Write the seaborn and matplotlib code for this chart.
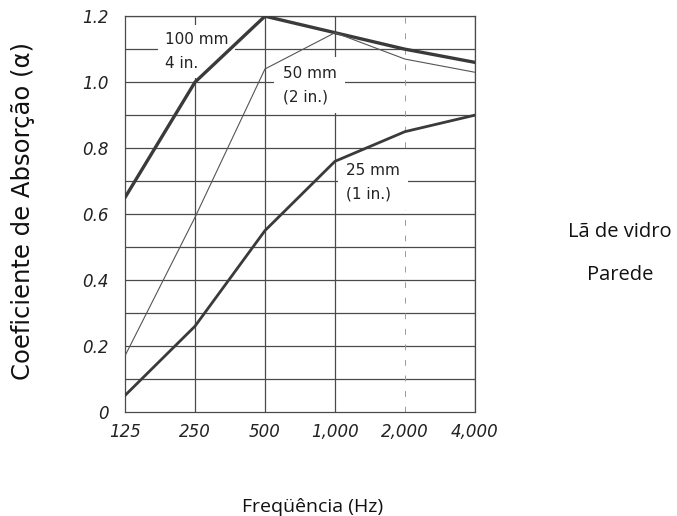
import matplotlib
matplotlib.use("Agg")
import matplotlib.pyplot as plt
import seaborn as sns
import pandas as pd
import numpy as np

freqs = [125, 250, 500, 1000, 2000, 4000]
freq_labels = ["125", "250", "500", "1,000", "2,000", "4,000"]
mm100 = [0.65, 1.00, 1.20, 1.15, 1.10, 1.06]
mm50 = [0.17, 0.59, 1.04, 1.15, 1.07, 1.03]
mm25 = [0.05, 0.26, 0.55, 0.76, 0.85, 0.90]
y_ticks = [0, 0.2, 0.4, 0.6, 0.8, 1.0, 1.2]
y_labels = ["0", "0.2", "0.4", "0.6", "0.8", "1.0", "1.2"]

sns.set_style("white")
plt.rcParams['font.family'] = ['DejaVu Sans']

fig = plt.figure(figsize=(6.77, 5.16), dpi=100)
ax = fig.add_axes([0.1846, 0.2016, 0.517, 0.767])
ax.set_xscale("log", base=2)

# grid
for v in np.arange(0.1, 1.21, 0.1):
    ax.axhline(v, color="#4a4a4a", lw=0.9, zorder=1)
for f in freqs[1:]:
    if f == 2000:
        ax.axvline(f, color="#9a9a9a", lw=0.7, ls=(0, (6, 10)), zorder=1)
    else:
        ax.axvline(f, color="#4a4a4a", lw=0.9, zorder=1)

df100 = pd.DataFrame({"f": freqs, "a": mm100})
df50 = pd.DataFrame({"f": freqs, "a": mm50})
df25 = pd.DataFrame({"f": freqs, "a": mm25})
sns.lineplot(data=df100, x="f", y="a", ax=ax, color="#3a3a3a", lw=2.4, zorder=3)
sns.lineplot(data=df50, x="f", y="a", ax=ax, color="#555555", lw=0.8, zorder=3)
sns.lineplot(data=df25, x="f", y="a", ax=ax, color="#3a3a3a", lw=2.0, zorder=3)

ax.set_xlim(125, 4000)
ax.set_ylim(0, 1.2)
ax.set_xticks(freqs)
ax.set_xticklabels(freq_labels, fontsize=12, style="italic", color="#222222")
ax.set_yticks(y_ticks)
ax.set_yticklabels(y_labels, fontsize=12, style="italic", color="#222222")
ax.minorticks_off()
ax.tick_params(axis="y", length=0, pad=12)
ax.tick_params(axis="x", length=0, pad=8)
ax.set_xlabel("")
ax.set_ylabel("")
for s in ax.spines.values():
    s.set_color("#4a4a4a")
    s.set_linewidth(0.9)

tkw = dict(fontsize=11, color="#222222", zorder=2.5, ha="left", va="center",
           linespacing=1.75)
ax.text(186, 1.092, "100 mm\n4 in.", bbox=dict(facecolor="white", edgecolor="none", pad=5), **tkw)
ax.text(597, 0.991, "50 mm\n(2 in.)", bbox=dict(facecolor="white", edgecolor="none", pad=6), **tkw)
ax.text(1115, 0.697, "25 mm\n(1 in.)", bbox=dict(facecolor="white", edgecolor="none", pad=6), **tkw)

fig.text(0.034, 0.591, "Coeficiente de Absorção (α)", rotation=90, ha="center", va="center",
         fontsize=17.5, color="#111111")
fig.text(0.461, 0.018, "Freqüência (Hz)", ha="center", va="center", fontsize=14,
         color="#111111", family="Open Sans")
fig.text(0.916, 0.55, "Lã de vidro", ha="center", va="center", fontsize=14.5,
         color="#111111", family="Open Sans")
fig.text(0.916, 0.467, "Parede", ha="center", va="center", fontsize=14.5,
         color="#111111", family="Open Sans")

fig.savefig("out.png", dpi=100)
